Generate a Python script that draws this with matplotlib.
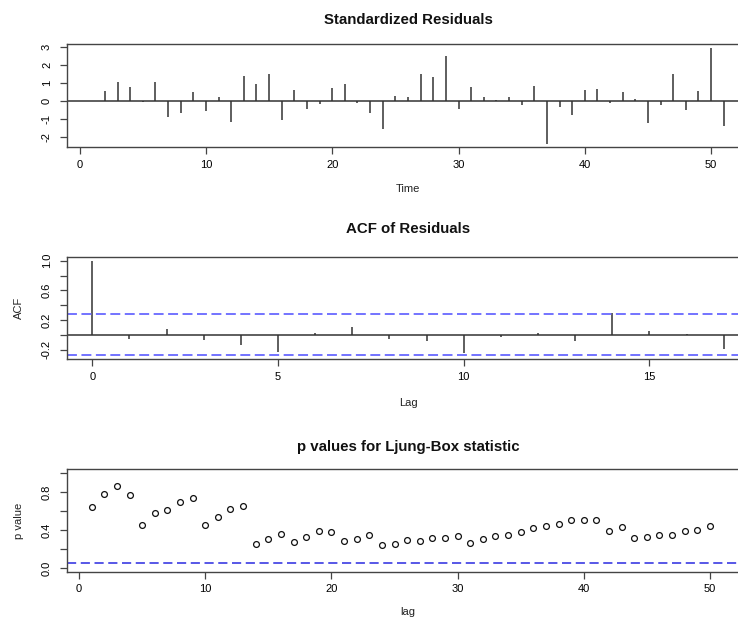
import numpy as np
import matplotlib
matplotlib.use("Agg")
import matplotlib.pyplot as plt

plt.rcParams['font.family'] = ['Liberation Sans', 'DejaVu Sans']
plt.rcParams['axes.unicode_minus'] = False

# standardized residuals, t = 1..51
time = list(range(1, 52))
std_resid = [0.01, 0.52, 1.04, 0.74, -0.05, 1.06, -0.89, -0.70, 0.48, -0.58,
             0.22, -1.20, 1.39, 0.94, 1.48, -1.06, 0.59, -0.48, -0.17, 0.69,
             0.94, -0.14, -0.70, -1.54, 0.28, 0.19, 1.48, 1.31, 2.48, -0.45,
             0.74, 0.24, 0.02, 0.24, -0.24, 0.85, -2.37, -0.35, -0.78, 0.59,
             0.65, -0.10, 0.50, 0.11, -1.24, -0.24, 1.48, -0.52, 0.54, 2.94,
             -1.37]

# autocorrelation of residuals, lags 0..17
acf_lag = list(range(0, 18))
acf_val = [1.0, -0.058, 0.076, -0.076, -0.144, -0.233, 0.018, 0.108, -0.058,
           -0.080, -0.250, -0.030, 0.030, -0.090, 0.300, 0.045, 0.005, -0.197]
acf_ci = 0.277

# Ljung-Box p values, lags 1..50
lb_lag = list(range(1, 51))
lb_p = [0.64, 0.78, 0.86, 0.77, 0.45, 0.58, 0.61, 0.69, 0.74, 0.45,
        0.54, 0.62, 0.65, 0.25, 0.30, 0.36, 0.27, 0.33, 0.39, 0.38,
        0.28, 0.31, 0.35, 0.24, 0.25, 0.29, 0.28, 0.32, 0.32, 0.34,
        0.26, 0.30, 0.34, 0.35, 0.38, 0.42, 0.44, 0.46, 0.51, 0.51,
        0.51, 0.39, 0.43, 0.32, 0.33, 0.35, 0.35, 0.39, 0.40, 0.44]
lb_level = 0.05

W, H = 738, 617
fig = plt.figure(figsize=(W / 100, H / 100), dpi=100)

LINE = '#333333'
PT = 0.72  # points per pixel at 100 dpi


def rlim(lo, hi):
    pad = (hi - lo) * 0.04
    return lo - pad, hi + pad


def panel(top, bottom):
    # axes box given in pixel rows; right edge runs past the figure
    left, right = 67, 749
    return fig.add_axes([left / W, 1 - bottom / H, (right - left) / W, (bottom - top) / H])


def style(ax, title, xlabel, ylabel, title_off, xlab_off):
    for s in ax.spines.values():
        s.set_color('#444444')
        s.set_linewidth(1.0)
    ax.tick_params(direction='out', length=7 * PT, width=0.9, color='#444444',
                   labelsize=8, pad=5.5 * PT)
    ax.tick_params(axis='y', pad=8 * PT)
    plt.setp(ax.get_yticklabels(), rotation=90, va='center')
    ax.annotate(title, xy=(0.5, 1), xycoords='axes fraction',
                xytext=(0, title_off * PT), textcoords='offset points',
                ha='center', va='center', fontsize=10.8, fontweight='bold',
                color='#111111')
    ax.annotate(xlabel, xy=(0.5, 0), xycoords='axes fraction',
                xytext=(0, -xlab_off * PT), textcoords='offset points',
                ha='center', va='center', fontsize=8, color='#222222')
    if ylabel:
        ax.annotate(ylabel, xy=(0, 0.5), xycoords='axes fraction',
                    xytext=(-48 * PT, 0), textcoords='offset points',
                    ha='center', va='center', rotation=90, fontsize=8,
                    color='#222222')


# standardized residuals
ax1 = panel(44, 147.4)
ax1.vlines(time, 0, std_resid, color=LINE, lw=1.1)
ax1.axhline(0, color=LINE, lw=1.1)
ax1.set_xlim(*rlim(min(time), max(time)))
ax1.set_ylim(*rlim(min(std_resid), max(std_resid)))
ax1.set_xticks([0, 10, 20, 30, 40, 50])
ax1.set_yticks([-2, -1, 0, 1, 2, 3])
style(ax1, 'Standardized Residuals', 'Time', None, 24, 42)

# ACF of residuals
ax2 = panel(257, 359)
ax2.vlines(acf_lag, 0, acf_val, color=LINE, lw=1.1)
ax2.axhline(0, color=LINE, lw=1.1)
for c in (acf_ci, -acf_ci):
    ax2.axhline(c, color='#6868ff', lw=1.3, dashes=(5.5, 2.5))
ax2.set_xlim(*rlim(min(acf_lag), max(acf_lag)))
ax2.set_ylim(*rlim(-acf_ci, max(acf_val)))
ax2.set_xticks([0, 5, 10, 15])
ax2.set_yticks([-0.2, 0.0, 0.2, 0.4, 0.6, 0.8, 1.0])
ax2.set_yticklabels(['-0.2', '', '0.2', '', '0.6', '', '1.0'])
style(ax2, 'ACF of Residuals', 'Lag', 'ACF', 28, 44)

# Ljung-Box p values
ax3 = panel(469.3, 571.7)
ax3.plot(lb_lag, lb_p, 'o', ms=4.2, mfc='none', mec='#111111', mew=0.9)
ax3.axhline(lb_level, color='#2a2ae0', lw=1.1, dashes=(6, 3))
ax3.set_xlim(rlim(min(lb_lag), max(lb_lag))[0], 53.1)
ax3.set_ylim(*rlim(0, 1))
ax3.set_xticks([0, 10, 20, 30, 40, 50])
ax3.set_yticks([0.0, 0.2, 0.4, 0.6, 0.8, 1.0])
ax3.set_yticklabels(['0.0', '', '0.4', '', '0.8', ''])
style(ax3, 'p values for Ljung-Box statistic', 'lag', 'p value', 22, 40)

fig.savefig('out.png', dpi=100)
